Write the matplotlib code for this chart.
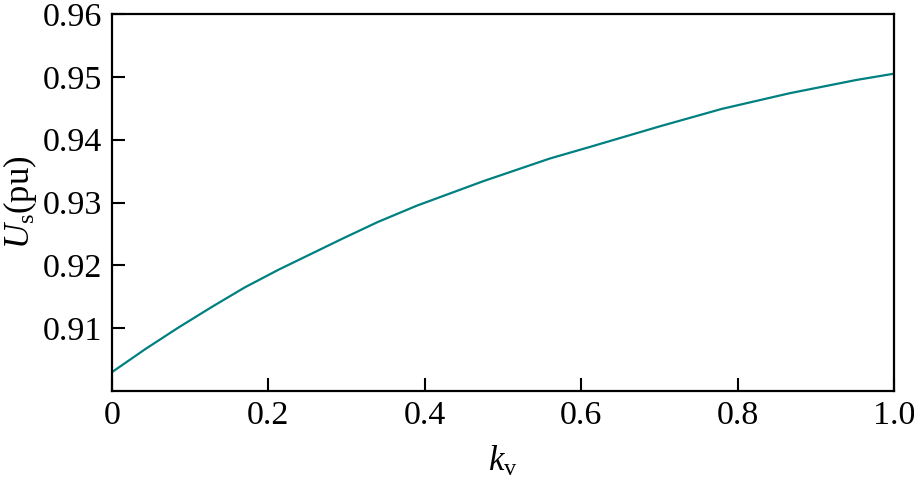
import matplotlib
matplotlib.use("Agg")
import matplotlib.pyplot as plt

plt.rcParams['font.family'] = 'Liberation Serif'
plt.rcParams['mathtext.fontset'] = 'custom'
plt.rcParams['mathtext.rm'] = 'Liberation Serif'
plt.rcParams['mathtext.it'] = 'Liberation Serif:italic'

# values
kv = [0, 0.043, 0.085, 0.128, 0.17, 0.213, 0.256, 0.294, 0.34, 0.39, 0.475,
      0.56, 0.61, 0.70, 0.78, 0.867, 0.952, 1.0]
us = [0.9030, 0.9067, 0.9101, 0.9134, 0.9165, 0.9193, 0.9219, 0.9242, 0.9269, 0.9295, 0.9334,
      0.9370, 0.9388, 0.9421, 0.9449, 0.9474, 0.9495, 0.9505]

x_ticks = [0, 0.2, 0.4, 0.6, 0.8, 1.0]
x_labels = ['0', '0.2', '0.4', '0.6', '0.8', '1.0']
y_ticks = [0.91, 0.92, 0.93, 0.94, 0.95, 0.96]
y_labels = ['0.91', '0.92', '0.93', '0.94', '0.95', '0.96']

fig = plt.figure(figsize=(9.14, 4.78), dpi=100)
ax = fig.add_axes([0.1225, 0.182, 0.8555, 0.7887])

ax.plot(kv, us, color='#008080', linewidth=1.6)

ax.set_xlim(0, 1.0)
ax.set_ylim(0.90, 0.96)
ax.set_xticks(x_ticks)
ax.set_xticklabels(x_labels)
ax.set_yticks(y_ticks)
ax.set_yticklabels(y_labels)
ax.tick_params(direction='in', length=9.5, width=1.5, labelsize=24.5, pad=7,
               top=False, right=False)

for s in ax.spines.values():
    s.set_linewidth(1.6)

ax.set_xlabel(r'$k_{\rm v}$', fontsize=25, labelpad=10)
ax.set_ylabel(r'$U_{\rm s}$(pu)', fontsize=25, labelpad=3)

fig.savefig('out.png', dpi=100)
